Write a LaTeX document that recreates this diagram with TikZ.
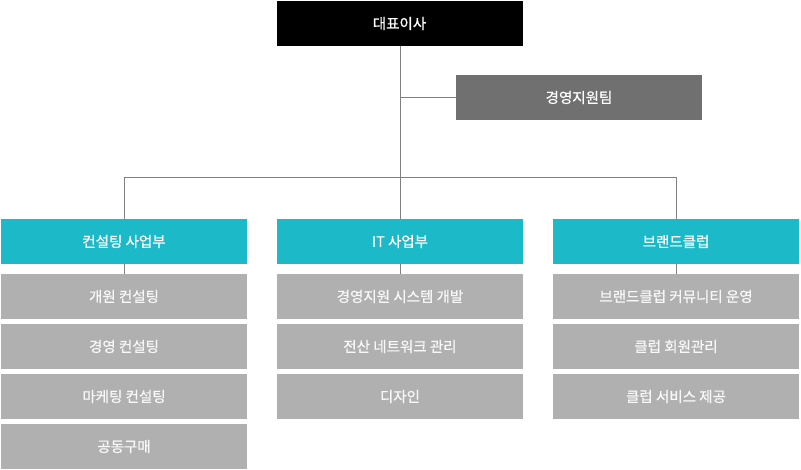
\documentclass[tikz,border=0pt]{standalone}
\usepackage{fontspec}
\setmainfont{Noto Sans CJK KR}[FakeBold=0.7]
\definecolor{cyanbox}{HTML}{1CB9C8}
\definecolor{darkbox}{HTML}{707070}
\definecolor{lightbox}{HTML}{B0B0B0}
\definecolor{linecol}{HTML}{808080}
\definecolor{lighttext}{HTML}{F8F8F8}
\begin{document}
\begin{tikzpicture}[x=1pt,y=-1pt,
  box/.style={minimum width=246pt,minimum height=45pt,inner sep=0pt,font=\fontsize{14.5}{16}\selectfont,text=white},
  ceo/.style={box,fill=black},
  staff/.style={box,fill=darkbox},
  dept/.style={box,fill=cyanbox},
  task/.style={box,fill=lightbox,text=lighttext},
  conn/.style={draw=linecol,line width=1pt}]
\useasboundingbox (0,0) rectangle (801,470);
\node[ceo] (ceo) at (399.5,23.5) {대표이사};
\node[staff] (staff) at (579,97.5) {경영지원팀};
\coordinate (j1) at (400.5,97.5);
\coordinate (bus) at (400.5,177.5);
\coordinate (busL) at (124.5,177.5);
\coordinate (busR) at (676,177.5);
% columns
\node[dept] (d1) at (124,241.5) {컨설팅 사업부};
\node[dept] (d2) at (400,241.5) {IT 사업부};
\node[dept] (d3) at (676,241.5) {브랜드클럽};
\node[task] (a1) at (124,296.5) {개원 컨설팅};
\node[task] (a2) at (124,346.5) {경영 컨설팅};
\node[task] (a3) at (124,396.5) {마케팅 컨설팅};
\node[task] (a4) at (124,446.5) {공동구매};
\node[task] (b1) at (400,296.5) {경영지원 시스템 개발};
\node[task] (b2) at (400,346.5) {전산 네트워크 관리};
\node[task] (b3) at (400,396.5) {디자인};
\node[task] (c1) at (676,296.5) {브랜드클럽 커뮤니티 운영};
\node[task] (c2) at (676,346.5) {클럽 회원관리};
\node[task] (c3) at (676,396.5) {클럽 서비스 제공};
% connectors
\draw[conn] (ceo.south -| bus) -- (bus);
\draw[conn] (j1) -- (staff.west);
\draw[conn] (busL) -- (busR);
\draw[conn] (busL) -- (d1.north -| busL);
\draw[conn] (bus) -- (d2.north -| bus);
\draw[conn] (busR) -- (d3.north);
\draw[conn] (d1.south -| busL) -- (a1.north -| busL);
\draw[conn] (d2.south -| bus) -- (b1.north -| bus);
\draw[conn] (d3.south) -- (c1.north);
\end{tikzpicture}
\end{document}
